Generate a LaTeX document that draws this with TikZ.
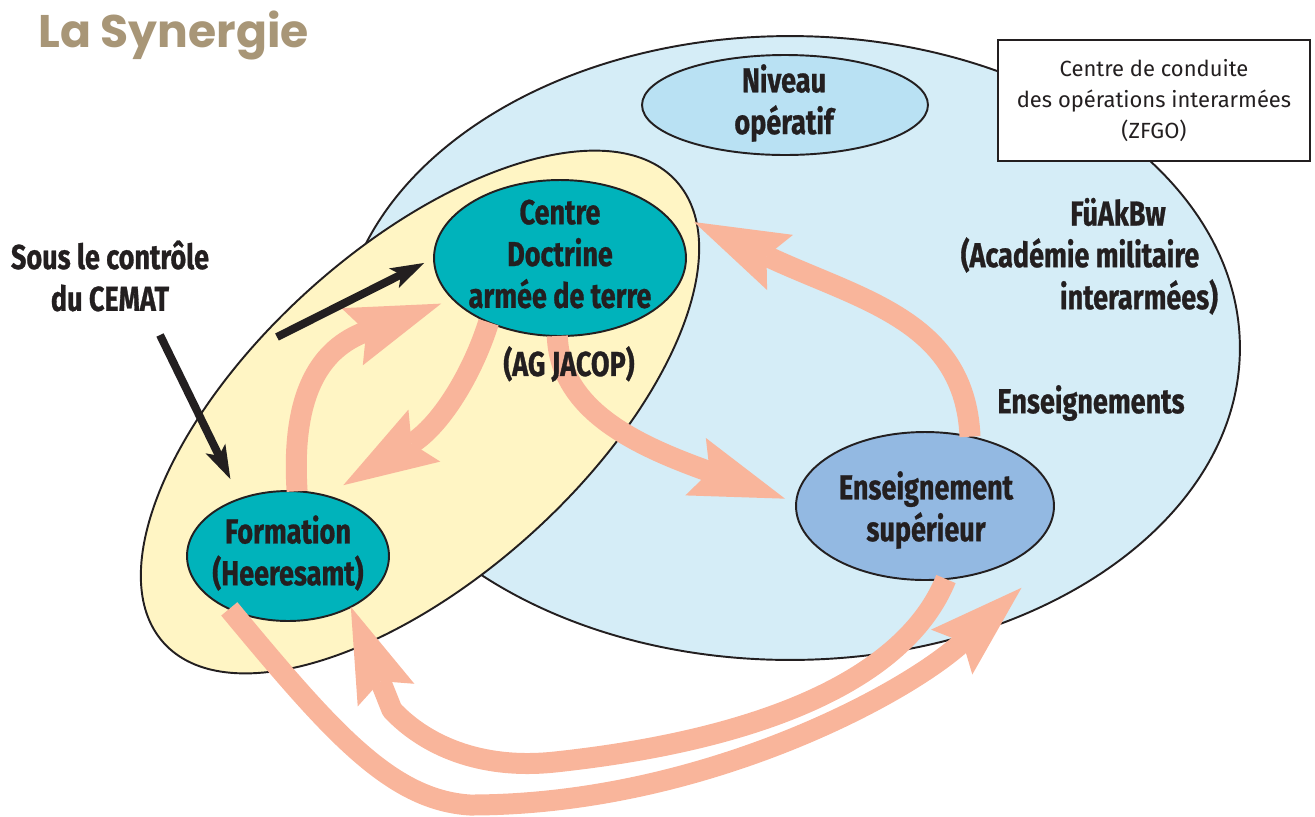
\documentclass[tikz,border=0pt]{standalone}
\usepackage{fontspec}
\setmainfont{Fira Sans}
\newfontfamily\dinfont[FakeStretch=0.78, BoldFeatures={FakeBold=0.8}]{Fira Sans}
\newfontfamily\titlefont{Poppins}
\usetikzlibrary{shapes.geometric,arrows.meta,calc}
\definecolor{bigblue}{RGB}{213,237,247}
\definecolor{nivblue}{RGB}{185,225,243}
\definecolor{ensblue}{RGB}{147,185,226}
\definecolor{tealc}{RGB}{0,179,187}
\definecolor{yelc}{RGB}{255,245,196}
\definecolor{salc}{RGB}{249,181,155}
\definecolor{txtc}{RGB}{35,31,32}
\definecolor{titlec}{RGB}{168,150,119}
\begin{document}
\begin{tikzpicture}[x=0.02cm,y=-0.02cm,
  ell/.style={ellipse, draw=txtc, line width=1.1pt, inner sep=0pt, outer sep=0pt},
  lbl/.style={font=\dinfont\bfseries\fontsize{19.7}{23.8}\selectfont, text=txtc, align=center, inner sep=0pt},
  salarrow/.style={draw=salc, line width=0.42cm, line join=round, -{Stealth[length=1.9cm, width=1.22cm, inset=0.3cm, line width=0pt]}},
  blkarrow/.style={draw=txtc, line width=0.16cm, -{Stealth[length=0.68cm, width=0.44cm, inset=0.16cm, line width=0pt]}}
]
\useasboundingbox (0,0) rectangle (1315,816);
% containers
\node[ell, fill=bigblue, minimum width=18cm, minimum height=12.48cm] (big) at (790,348) {};
\node[draw=txtc, line width=1.1pt, fill=white, minimum width=6.24cm, minimum height=2.42cm, align=center, inner sep=0pt, text=txtc, font=\fontsize{12.5}{17.6}\selectfont] (zfgo) at (1154,100.5) {Centre de conduite\\des opérations interarmées\\(ZFGO)};
\node[ell, fill=yelc, rotate=42, minimum width=13.8cm, minimum height=6.6cm] (yel) at (420,412) {};
% inner ellipses
\node[ell, fill=nivblue, minimum width=5.72cm, minimum height=2cm] (niv) at (785,105) {};
\node[ell, fill=tealc, minimum width=5.04cm, minimum height=3.12cm] (doc) at (560,258) {};
\node[ell, fill=tealc, minimum width=4.04cm, minimum height=2.6cm] (form) at (288,556) {};
\node[ell, fill=ensblue, minimum width=5.16cm, minimum height=2.96cm] (ens) at (925,506) {};
% salmon arrows
\draw[salarrow] (form.82) .. controls (290,380) and (330,345) .. ($(doc.center)!1.11!(doc.201)$);
\draw[salarrow] (doc.222) .. controls (472,375) and (440,426) .. ($(form.center)!1.22!(form.52)$);
\draw[salarrow] (doc.268) .. controls (560,410) and (635,445) .. ($(ens.center)!1.09!(ens.177)$);
\draw[salarrow] (ens.57) .. controls (965,320) and (860,300) .. ($(doc.center)!1.16!(doc.15)$);
\draw[salarrow] (form.222) .. controls (330,730) and (390,800) .. (470,805) .. controls (700,805) and (905,695) .. ($(big.center)!0.925!(big.-46)$);
\draw[salarrow] (ens.-74) .. controls (905,680) and (760,740) .. (555,762) .. controls (480,770) and (425,745) .. (392,710) -- (form.-39);
% black arrows
\coordinate (k1s) at (160,335);
\coordinate (k2s) at (277,337);
\draw[blkarrow, shorten >=0.44cm] (k1s) -- (form.130);
\draw[blkarrow, shorten >=0.22cm] (k2s) -- (doc.west);
% labels
\node[anchor=base west, inner sep=0pt, text=titlec, font=\titlefont\bfseries\fontsize{26}{30}\selectfont] (title) at (38,47) {La Synergie};
\node[lbl] (tniv) at (784,103) {Niveau\\opératif};
\node[lbl] (tdoc) at (560,254) {Centre\\Doctrine\\armée de terre};
\node[lbl] (tjacop) at (569,364) {(AG JACOP)};
\node[lbl] (tform) at (288,553) {Formation\\(Heeresamt)};
\node[lbl] (tens) at (926,510) {Enseignement\\supérieur};
\node[lbl] (tfua1) at (1118,212) {FüAkBw};
\node[lbl] (tfua2) at (1080,255) {(Académie militaire};
\node[lbl] (tfua3) at (1139,297) {interarmées)};
\node[lbl] (tenss) at (1091,403) {Enseignements};
\node[lbl] (tcemat) at (110,276) {Sous le contrôle\\du CEMAT};
\end{tikzpicture}
\end{document}
